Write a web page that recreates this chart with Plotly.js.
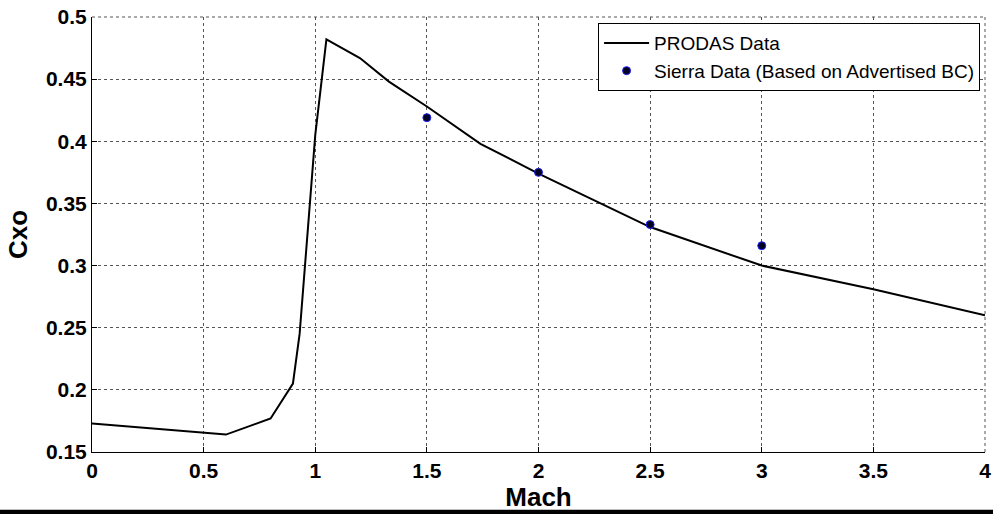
<!DOCTYPE html>
<html>
<head>
<meta charset="utf-8">
<script src="https://cdn.plot.ly/plotly-3.0.1.min.js"></script>
<style>html,body{margin:0;padding:0;background:#fff;} #chart{width:993px;height:514px;}</style>
</head>
<body>
<div id="chart"></div>
<script>
// PRODAS drag curve
var prodasMach = [0, 0.6, 0.8, 0.9, 0.93, 0.95, 0.975, 1.0, 1.05, 1.2, 1.33, 1.5, 1.74, 2.0, 2.5, 3.0, 3.5, 4.0];
var prodasCxo  = [0.173, 0.164, 0.177, 0.205, 0.245, 0.290, 0.345, 0.405, 0.482, 0.467, 0.448, 0.428, 0.398, 0.374, 0.331, 0.300, 0.281, 0.260];
// Sierra points
var sierraMach = [1.5, 2.0, 2.5, 3.0];
var sierraCxo  = [0.419, 0.375, 0.333, 0.316];

var xTicks = [0, 0.5, 1, 1.5, 2, 2.5, 3, 3.5, 4];
var xTickText = ['0', '0.5', '1', '1.5', '2', '2.5', '3', '3.5', '4'];
var yTicks = [0.15, 0.2, 0.25, 0.3, 0.35, 0.4, 0.45, 0.5];
var yTickText = ['0.15', '0.2', '0.25', '0.3', '0.35', '0.4', '0.45', '0.5'];

var F = 'Arial, "Liberation Sans", sans-serif';
var GRID = '#555';

var traces = [
  {x: prodasMach, y: prodasCxo, type: 'scatter', mode: 'lines', name: 'PRODAS Data',
   line: {color: '#000', width: 2}},
  {x: sierraMach, y: sierraCxo, type: 'scatter', mode: 'markers', name: 'Sierra Data (Based on Advertised BC)',
   marker: {color: '#000022', size: 8, line: {color: '#2020ff', width: 1}}}
];

var layout = {
  width: 993, height: 514,
  margin: {l: 92, r: 8, t: 17, b: 62},
  paper_bgcolor: '#fff', plot_bgcolor: '#fff',
  showlegend: true,
  legend: {x: 0.9945, xanchor: 'right', y: 0.986, yanchor: 'top',
           bgcolor: '#fff', bordercolor: '#000', borderwidth: 1,
           font: {family: F, size: 19, color: '#000'},
           tracegroupgap: 0, itemwidth: 45},
  xaxis: {
    range: [0, 4], tickvals: xTicks, ticktext: xTickText,
    showgrid: true, gridcolor: GRID, griddash: 'dot', gridwidth: 1,
    showline: true, linecolor: '#000', linewidth: 1, mirror: false,
    ticks: 'inside', ticklen: 5, tickcolor: '#000',
    zeroline: false,
    tickfont: {family: F, size: 21, color: '#000', weight: 'bold'},
    title: {text: '<b>Mach</b>', font: {family: F, size: 26, color: '#000'}, standoff: 2}
  },
  yaxis: {
    range: [0.15, 0.5], tickvals: yTicks, ticktext: yTickText,
    showgrid: true, gridcolor: GRID, griddash: 'dot', gridwidth: 1,
    showline: true, linecolor: '#000', linewidth: 1, mirror: false,
    ticks: 'inside', ticklen: 5, tickcolor: '#000',
    zeroline: false,
    tickfont: {family: F, size: 21, color: '#000', weight: 'bold'},
    title: {text: '<b>Cxo</b>', font: {family: F, size: 26, color: '#000'}, standoff: 10}
  },
  shapes: [
    {type: 'rect', xref: 'paper', yref: 'paper', x0: -0.11, x1: 1.02, y0: -0.1425, y1: -0.133,
     fillcolor: '#000', line: {width: 0}},
    {type: 'line', xref: 'paper', yref: 'paper', x0: 0, x1: 1, y0: 1, y1: 1,
     line: {color: GRID, width: 1, dash: 'dot'}},
    {type: 'line', xref: 'paper', yref: 'paper', x0: 1, x1: 1, y0: 0, y1: 1,
     line: {color: GRID, width: 1, dash: 'dot'}}
  ]
};

Plotly.newPlot('chart', traces, layout, {displayModeBar: false, staticPlot: true});
</script>
</body>
</html>
